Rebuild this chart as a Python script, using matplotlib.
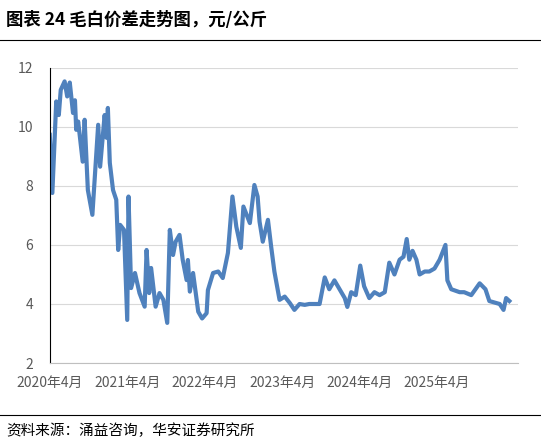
import matplotlib.pyplot as plt
from matplotlib.lines import Line2D

plt.rcParams["font.family"] = ["Noto Sans CJK SC", "DejaVu Sans"]

# 月份（距 2020年4月）与价差（元/公斤）
months = [0, 0.4, 1.0, 1.4, 1.7, 2.3, 2.7, 3.1, 3.6, 3.9, 4.1, 4.4, 5.1, 5.4, 5.9, 6.6,
          7.5, 7.8, 8.5, 8.8, 9.0, 9.3, 9.8, 10.3, 10.6, 10.9, 11.5, 12.0, 12.2, 12.6,
          13.2, 13.9, 14.7, 15.0, 15.4, 15.7, 16.4, 17.0, 17.6, 18.2, 18.6, 19.1, 19.5,
          20.1, 20.6, 21.2, 21.4, 21.7, 22.2, 23.0, 23.6, 24.3, 24.5, 25.3, 26.1, 26.8,
          27.6, 28.3, 28.9, 29.6, 30.0, 31.0, 31.7, 32.2, 32.5, 33.0, 33.8, 34.3, 34.8,
          35.6, 36.4, 37.2, 37.9, 38.7, 39.5, 40.2, 41.8, 42.6, 43.3, 44.1, 44.9, 45.7,
          46.1, 46.7, 47.4, 48.1, 48.7, 49.5, 50.3, 51.1, 51.9, 52.6, 53.4, 54.2, 54.8,
          55.3, 55.7, 56.2, 56.8, 57.3, 58.1, 58.8, 59.6, 60.4, 61.3, 61.6, 62.2, 63.5,
          64.2, 65.3, 66.6, 67.5, 68.1, 69.7, 70.3, 70.7, 71.2]
spread = [9.73, 7.76, 10.86, 10.4, 11.25, 11.54, 11.03, 11.5, 10.47, 10.9, 9.9, 10.18,
          8.82, 10.24, 7.86, 7.02, 10.07, 8.65, 10.4, 9.63, 10.64, 8.78, 7.86, 7.53,
          5.83, 6.68, 6.51, 3.46, 7.64, 4.54, 5.05, 4.37, 3.91, 5.83, 4.37, 5.22, 3.91,
          4.37, 4.14, 3.36, 6.51, 5.66, 6.11, 6.34, 5.49, 4.81, 5.49, 4.42, 5.05, 3.74,
          3.51, 3.69, 4.47, 5.05, 5.1, 4.88, 5.73, 7.64, 6.62, 5.9, 7.3, 6.74, 8.03,
          7.64, 6.79, 6.11, 6.85, 5.94, 5.1, 4.14, 4.25, 4.03, 3.8, 4.0, 3.97, 4.0,
          4.0, 4.9, 4.5, 4.8, 4.5, 4.2, 3.9, 4.4, 4.3, 5.3, 4.6, 4.2, 4.4, 4.3, 4.4,
          5.4, 5.0, 5.5, 5.6, 6.2, 5.5, 5.8, 5.5, 5.0, 5.1, 5.1, 5.2, 5.5, 6.0, 4.8,
          4.5, 4.4, 4.4, 4.3, 4.7, 4.5, 4.1, 4.0, 3.8, 4.2, 4.1]
tick_pos = [0, 12, 24, 36, 48, 60]
tick_labels = ["2020年4月", "2021年4月", "2022年4月", "2023年4月", "2024年4月", "2025年4月"]

fig = plt.figure(figsize=(5.41, 4.46), dpi=100)
ax = fig.add_axes([0.092, 0.186, 0.865, 0.662])
ax.plot(months, spread, color="#4f81bd", linewidth=3)
ax.set_ylim(2, 12)
ax.set_xlim(0, 72.5)
ax.set_yticks(range(2, 13, 2))
ax.set_xticks(tick_pos)
ax.set_xticklabels(tick_labels)
ax.tick_params(labelsize=10, colors="#595959", length=0)
ax.tick_params(axis="x", pad=9)
ax.tick_params(axis="y", pad=12)
ax.grid(axis="y", color="#d9d9d9", linewidth=0.8)
ax.set_axisbelow(True)
for s in ["top", "right"]:
    ax.spines[s].set_visible(False)
ax.spines["left"].set_color("#000000")
ax.spines["bottom"].set_color("#bfbfbf")

fig.text(0.012, 0.955, "图表 24 毛白价差走势图，元/公斤", fontsize=12.5, fontweight="bold",
         va="center")
fig.add_artist(Line2D([0.0, 1.0], [0.91, 0.91], color="black", linewidth=0.8))
fig.add_artist(Line2D([0.0, 1.0], [0.07, 0.07], color="black", linewidth=0.8))
fig.text(0.012, 0.035, "资料来源：涌益咨询，华安证券研究所", fontsize=10.5, va="center")

fig.savefig("out.png", dpi=100)
